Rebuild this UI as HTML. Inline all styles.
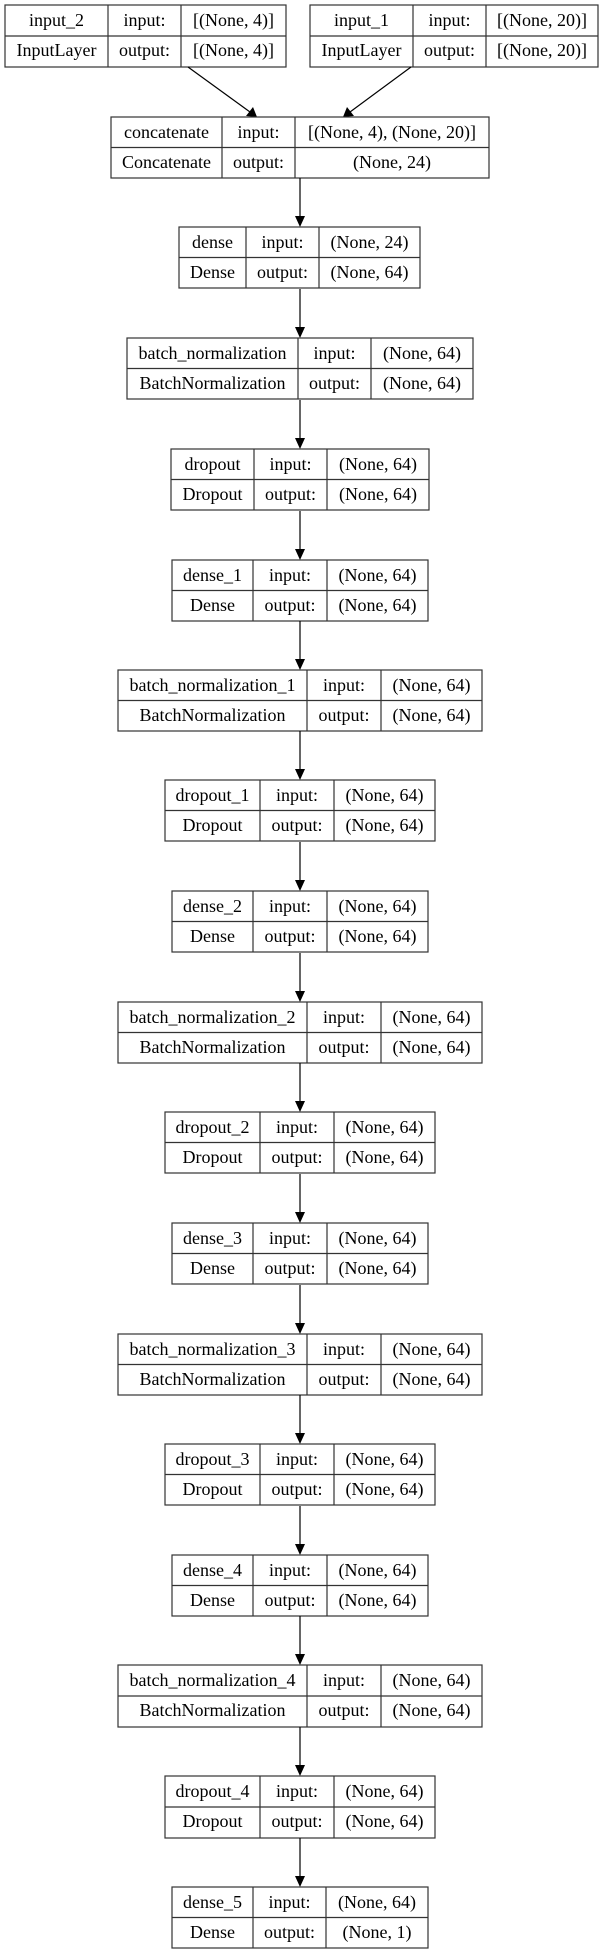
<!DOCTYPE html>
<html><head><meta charset="utf-8"><style>
html,body{margin:0;padding:0;background:#fff;width:605px;height:1955px;overflow:hidden}
svg{display:block}
text{font-family:"Liberation Serif",serif;font-size:18px;fill:#000;text-anchor:middle}
rect,.d{fill:none;stroke:#333;stroke-width:1.2}
.a{stroke:#000;stroke-width:1.2}
</style></head><body>
<svg width="605" height="1955" viewBox="0 0 605 1955" xmlns="http://www.w3.org/2000/svg">
<defs>
<g id="ar"><line class="a" x1="300" y1="-49" x2="300" y2="-10"/><polygon points="295,-11 305,-11 300,0" fill="#000"/></g>
</defs>

<g transform="translate(0,5)">
<rect x="5" y="0" width="281" height="62"/><line class="d" x1="5" y1="31" x2="286" y2="31"/><line class="d" x1="108" y1="0" x2="108" y2="62"/><line class="d" x1="181" y1="0" x2="181" y2="62"/>
<text x="56.5" y="21">input_2</text><text x="144.5" y="21">input:</text><text x="233.5" y="21">[(None, 4)]</text>
<text x="56.5" y="51">InputLayer</text><text x="144.5" y="51">output:</text><text x="233.5" y="51">[(None, 4)]</text>
</g>
<g transform="translate(0,5)">
<rect x="310" y="0" width="288" height="62"/><line class="d" x1="310" y1="31" x2="598" y2="31"/><line class="d" x1="413" y1="0" x2="413" y2="62"/><line class="d" x1="486" y1="0" x2="486" y2="62"/>
<text x="361.5" y="21">input_1</text><text x="449.5" y="21">input:</text><text x="542" y="21">[(None, 20)]</text>
<text x="361.5" y="51">InputLayer</text><text x="449.5" y="51">output:</text><text x="542" y="51">[(None, 20)]</text>
</g>
<line class="a" x1="188" y1="67" x2="250" y2="112"/><polygon points="246,116 253,107 257,117" fill="#000"/>
<line class="a" x1="411" y1="67" x2="350" y2="112"/><polygon points="354,116 347,107 343,117" fill="#000"/>
<g transform="translate(0,117)">
<rect x="111" y="0" width="378" height="61"/><line class="d" x1="111" y1="30.5" x2="489" y2="30.5"/><line class="d" x1="222" y1="0" x2="222" y2="61"/><line class="d" x1="295" y1="0" x2="295" y2="61"/>
<text x="166.5" y="21">concatenate</text><text x="258.5" y="21">input:</text><text x="392" y="21">[(None, 4), (None, 20)]</text>
<text x="166.5" y="51">Concatenate</text><text x="258.5" y="51">output:</text><text x="392" y="51">(None, 24)</text>
</g>

<g transform="translate(0,227)"><use href="#ar"/>
<rect x="179" y="0" width="241" height="61"/><line class="d" x1="179" y1="30.5" x2="420" y2="30.5"/><line class="d" x1="246" y1="0" x2="246" y2="61"/><line class="d" x1="319" y1="0" x2="319" y2="61"/>
<text x="212.5" y="21">dense</text><text x="282.5" y="21">input:</text><text x="369.5" y="21">(None, 24)</text>
<text x="212.5" y="51">Dense</text><text x="282.5" y="51">output:</text><text x="369.5" y="51">(None, 64)</text>
</g>
<g transform="translate(0,338)"><use href="#ar"/>
<rect x="127" y="0" width="346" height="61"/><line class="d" x1="127" y1="30.5" x2="473" y2="30.5"/><line class="d" x1="298" y1="0" x2="298" y2="61"/><line class="d" x1="371" y1="0" x2="371" y2="61"/>
<text x="212.5" y="21">batch_normalization</text><text x="334.5" y="21">input:</text><text x="422" y="21">(None, 64)</text>
<text x="212.5" y="51">BatchNormalization</text><text x="334.5" y="51">output:</text><text x="422" y="51">(None, 64)</text>
</g>
<g transform="translate(0,449)"><use href="#ar"/>
<rect x="171" y="0" width="258" height="61"/><line class="d" x1="171" y1="30.5" x2="429" y2="30.5"/><line class="d" x1="254" y1="0" x2="254" y2="61"/><line class="d" x1="327" y1="0" x2="327" y2="61"/>
<text x="212.5" y="21">dropout</text><text x="290.5" y="21">input:</text><text x="378" y="21">(None, 64)</text>
<text x="212.5" y="51">Dropout</text><text x="290.5" y="51">output:</text><text x="378" y="51">(None, 64)</text>
</g>
<g transform="translate(0,560)"><use href="#ar"/>
<rect x="172" y="0" width="256" height="61"/><line class="d" x1="172" y1="30.5" x2="428" y2="30.5"/><line class="d" x1="253" y1="0" x2="253" y2="61"/><line class="d" x1="327" y1="0" x2="327" y2="61"/>
<text x="212.5" y="21">dense_1</text><text x="290" y="21">input:</text><text x="377.5" y="21">(None, 64)</text>
<text x="212.5" y="51">Dense</text><text x="290" y="51">output:</text><text x="377.5" y="51">(None, 64)</text>
</g>
<g transform="translate(0,670)"><use href="#ar"/>
<rect x="118" y="0" width="364" height="61"/><line class="d" x1="118" y1="30.5" x2="482" y2="30.5"/><line class="d" x1="307" y1="0" x2="307" y2="61"/><line class="d" x1="381" y1="0" x2="381" y2="61"/>
<text x="212.5" y="21">batch_normalization_1</text><text x="344" y="21">input:</text><text x="431.5" y="21">(None, 64)</text>
<text x="212.5" y="51">BatchNormalization</text><text x="344" y="51">output:</text><text x="431.5" y="51">(None, 64)</text>
</g>
<g transform="translate(0,780)"><use href="#ar"/>
<rect x="165" y="0" width="270" height="61"/><line class="d" x1="165" y1="30.5" x2="435" y2="30.5"/><line class="d" x1="260" y1="0" x2="260" y2="61"/><line class="d" x1="334" y1="0" x2="334" y2="61"/>
<text x="212.5" y="21">dropout_1</text><text x="297" y="21">input:</text><text x="384.5" y="21">(None, 64)</text>
<text x="212.5" y="51">Dropout</text><text x="297" y="51">output:</text><text x="384.5" y="51">(None, 64)</text>
</g>
<g transform="translate(0,891)"><use href="#ar"/>
<rect x="172" y="0" width="256" height="61"/><line class="d" x1="172" y1="30.5" x2="428" y2="30.5"/><line class="d" x1="253" y1="0" x2="253" y2="61"/><line class="d" x1="327" y1="0" x2="327" y2="61"/>
<text x="212.5" y="21">dense_2</text><text x="290" y="21">input:</text><text x="377.5" y="21">(None, 64)</text>
<text x="212.5" y="51">Dense</text><text x="290" y="51">output:</text><text x="377.5" y="51">(None, 64)</text>
</g>
<g transform="translate(0,1002)"><use href="#ar"/>
<rect x="118" y="0" width="364" height="61"/><line class="d" x1="118" y1="30.5" x2="482" y2="30.5"/><line class="d" x1="307" y1="0" x2="307" y2="61"/><line class="d" x1="381" y1="0" x2="381" y2="61"/>
<text x="212.5" y="21">batch_normalization_2</text><text x="344" y="21">input:</text><text x="431.5" y="21">(None, 64)</text>
<text x="212.5" y="51">BatchNormalization</text><text x="344" y="51">output:</text><text x="431.5" y="51">(None, 64)</text>
</g>
<g transform="translate(0,1112)"><use href="#ar"/>
<rect x="165" y="0" width="270" height="61"/><line class="d" x1="165" y1="30.5" x2="435" y2="30.5"/><line class="d" x1="260" y1="0" x2="260" y2="61"/><line class="d" x1="334" y1="0" x2="334" y2="61"/>
<text x="212.5" y="21">dropout_2</text><text x="297" y="21">input:</text><text x="384.5" y="21">(None, 64)</text>
<text x="212.5" y="51">Dropout</text><text x="297" y="51">output:</text><text x="384.5" y="51">(None, 64)</text>
</g>
<g transform="translate(0,1223)"><use href="#ar"/>
<rect x="172" y="0" width="256" height="61"/><line class="d" x1="172" y1="30.5" x2="428" y2="30.5"/><line class="d" x1="253" y1="0" x2="253" y2="61"/><line class="d" x1="327" y1="0" x2="327" y2="61"/>
<text x="212.5" y="21">dense_3</text><text x="290" y="21">input:</text><text x="377.5" y="21">(None, 64)</text>
<text x="212.5" y="51">Dense</text><text x="290" y="51">output:</text><text x="377.5" y="51">(None, 64)</text>
</g>
<g transform="translate(0,1334)"><use href="#ar"/>
<rect x="118" y="0" width="364" height="61"/><line class="d" x1="118" y1="30.5" x2="482" y2="30.5"/><line class="d" x1="307" y1="0" x2="307" y2="61"/><line class="d" x1="381" y1="0" x2="381" y2="61"/>
<text x="212.5" y="21">batch_normalization_3</text><text x="344" y="21">input:</text><text x="431.5" y="21">(None, 64)</text>
<text x="212.5" y="51">BatchNormalization</text><text x="344" y="51">output:</text><text x="431.5" y="51">(None, 64)</text>
</g>
<g transform="translate(0,1444)"><use href="#ar"/>
<rect x="165" y="0" width="270" height="61"/><line class="d" x1="165" y1="30.5" x2="435" y2="30.5"/><line class="d" x1="260" y1="0" x2="260" y2="61"/><line class="d" x1="334" y1="0" x2="334" y2="61"/>
<text x="212.5" y="21">dropout_3</text><text x="297" y="21">input:</text><text x="384.5" y="21">(None, 64)</text>
<text x="212.5" y="51">Dropout</text><text x="297" y="51">output:</text><text x="384.5" y="51">(None, 64)</text>
</g>
<g transform="translate(0,1555)"><use href="#ar"/>
<rect x="172" y="0" width="256" height="61"/><line class="d" x1="172" y1="30.5" x2="428" y2="30.5"/><line class="d" x1="253" y1="0" x2="253" y2="61"/><line class="d" x1="327" y1="0" x2="327" y2="61"/>
<text x="212.5" y="21">dense_4</text><text x="290" y="21">input:</text><text x="377.5" y="21">(None, 64)</text>
<text x="212.5" y="51">Dense</text><text x="290" y="51">output:</text><text x="377.5" y="51">(None, 64)</text>
</g>
<g transform="translate(0,1665)"><use href="#ar"/>
<rect x="118" y="0" width="364" height="62"/><line class="d" x1="118" y1="31" x2="482" y2="31"/><line class="d" x1="307" y1="0" x2="307" y2="62"/><line class="d" x1="381" y1="0" x2="381" y2="62"/>
<text x="212.5" y="21">batch_normalization_4</text><text x="344" y="21">input:</text><text x="431.5" y="21">(None, 64)</text>
<text x="212.5" y="51">BatchNormalization</text><text x="344" y="51">output:</text><text x="431.5" y="51">(None, 64)</text>
</g>
<g transform="translate(0,1776)"><use href="#ar"/>
<rect x="165" y="0" width="270" height="62"/><line class="d" x1="165" y1="31" x2="435" y2="31"/><line class="d" x1="260" y1="0" x2="260" y2="62"/><line class="d" x1="334" y1="0" x2="334" y2="62"/>
<text x="212.5" y="21">dropout_4</text><text x="297" y="21">input:</text><text x="384.5" y="21">(None, 64)</text>
<text x="212.5" y="51">Dropout</text><text x="297" y="51">output:</text><text x="384.5" y="51">(None, 64)</text>
</g>
<g transform="translate(0,1887)"><use href="#ar"/>
<rect x="172" y="0" width="256" height="61"/><line class="d" x1="172" y1="30.5" x2="428" y2="30.5"/><line class="d" x1="253" y1="0" x2="253" y2="61"/><line class="d" x1="326" y1="0" x2="326" y2="61"/>
<text x="212.5" y="21">dense_5</text><text x="289.5" y="21">input:</text><text x="377" y="21">(None, 64)</text>
<text x="212.5" y="51">Dense</text><text x="289.5" y="51">output:</text><text x="377" y="51">(None, 1)</text>
</g>
</svg>
</body></html>
